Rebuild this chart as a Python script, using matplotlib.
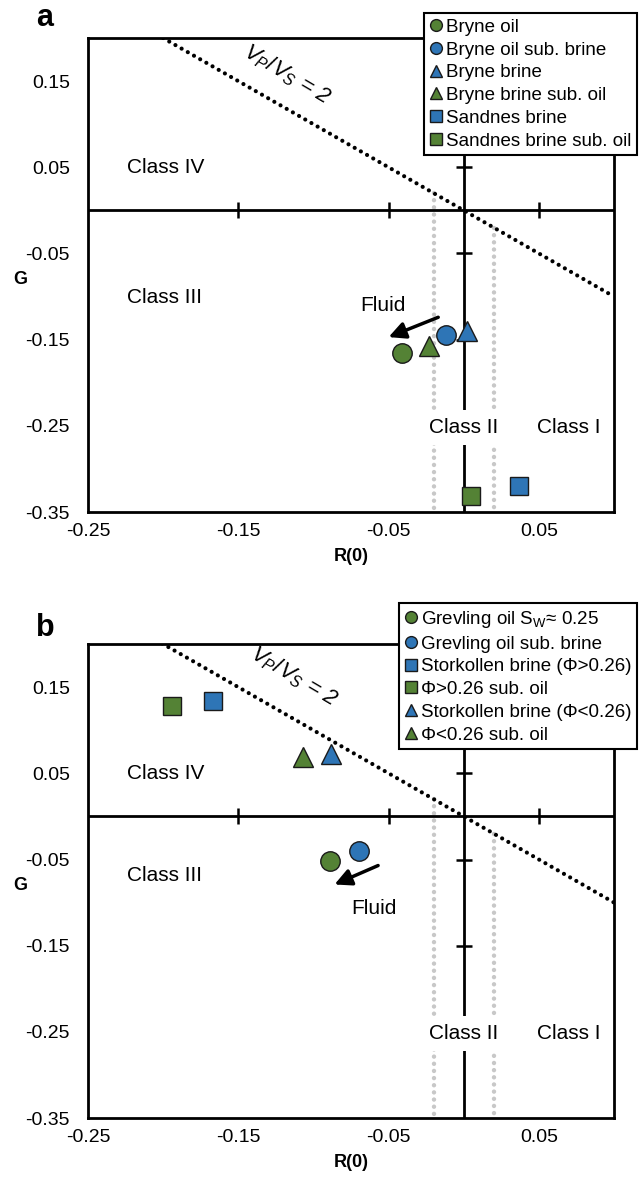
import numpy as np
import matplotlib
matplotlib.use("Agg")
import matplotlib.pyplot as plt
from matplotlib.lines import Line2D

plt.rcParams["font.family"] = ["Liberation Sans", "DejaVu Sans"]
plt.rcParams["mathtext.fontset"] = "custom"
plt.rcParams["mathtext.rm"] = "Liberation Sans"
plt.rcParams["mathtext.it"] = "Liberation Sans:italic"

GREEN = "#548235"
BLUE = "#2e75b6"

# panel a: Bryne / Sandnes
a_labels = ["Bryne oil", "Bryne oil sub. brine", "Bryne brine",
            "Bryne brine sub. oil", "Sandnes brine", "Sandnes brine sub. oil"]
a_r = [-0.041, -0.012, 0.002, -0.023, 0.037, 0.005]
a_g = [-0.166, -0.145, -0.140, -0.157, -0.320, -0.331]
a_markers = ["o", "o", "^", "^", "s", "s"]
a_colors = [GREEN, BLUE, BLUE, GREEN, BLUE, GREEN]

# panel b: Grevling / Storkollen
b_labels = [r"Grevling oil S$_\mathrm{W}$≈ 0.25", "Grevling oil sub. brine",
            "Storkollen brine (Φ>0.26)", "Φ>0.26 sub. oil",
            "Storkollen brine (Φ<0.26)", "Φ<0.26 sub. oil"]
b_r = [-0.089, -0.070, -0.167, -0.194, -0.088, -0.107]
b_g = [-0.052, -0.040, 0.134, 0.128, 0.072, 0.069]
b_markers = ["o", "o", "s", "s", "^", "^"]
b_colors = [GREEN, BLUE, BLUE, GREEN, BLUE, GREEN]

x_ticks = [-0.25, -0.15, -0.05, 0.05]
y_ticks = [0.15, 0.05, -0.05, -0.15, -0.25, -0.35]
vpvs_r = [-0.25, 0.10]

fig = plt.figure(figsize=(6.4, 11.85), dpi=100)
ax_a = fig.add_axes([0.1375, 0.5679, 0.822, 0.40])
ax_b = fig.add_axes([0.1375, 0.0565, 0.822, 0.40])


def draw_panel(ax, r, g, markers, colors, labels, arrow, fluid_xy,
               class3_y, vpvs_xy, leg_anchor):
    ax.set_xlim(-0.25, 0.10)
    ax.set_ylim(-0.35, 0.20)
    ax.set_xticks(x_ticks)
    ax.set_yticks(y_ticks)
    ax.set_xticklabels([f"{v:.2f}" for v in x_ticks])
    ax.set_yticklabels([f"{v:.2f}" for v in y_ticks])
    ax.tick_params(axis="x", length=0, labelsize=14, pad=8)
    ax.tick_params(axis="y", length=0, labelsize=14, pad=13)
    for s in ax.spines.values():
        s.set_linewidth(2)

    # axes through the origin with crossing ticks
    ax.axhline(0, color="black", lw=2, zorder=2)
    ax.axvline(0, color="black", lw=2, zorder=2)
    ax.plot([-0.15, -0.05, 0.05], [0, 0, 0], ls="none", marker="|",
            ms=11, mew=1.8, color="black", zorder=2)
    ax.plot([0] * 5, [0.15, 0.05, -0.05, -0.15, -0.25], ls="none",
            marker="_", ms=11, mew=1.8, color="black", zorder=2)

    # class boundaries
    for xv in (-0.02, 0.02):
        ax.plot([xv, xv], [-xv, -0.35], color="#c8c8c8", lw=3.2,
                ls=(0, (0.01, 1.6)), dash_capstyle="round", zorder=1)

    # Vp/Vs = 2 line
    ax.plot(vpvs_r, [-v for v in vpvs_r], color="black", lw=3,
            ls=(0, (0.01, 1.7)), dash_capstyle="round", zorder=3)
    ax.text(vpvs_xy[0], vpvs_xy[1], r"$V_P/V_S$ = 2", fontsize=16,
            style="italic", rotation=-30.5, ha="center", va="center",
            rotation_mode="anchor")

    ax.text(-0.198, 0.05, "Class IV", fontsize=15, ha="center", va="center")
    ax.text(-0.199, class3_y, "Class III", fontsize=15, ha="center",
            va="center")
    ax.text(0.0, -0.252, "Class II", fontsize=15, ha="center", va="center",
            zorder=4, bbox=dict(facecolor="white", edgecolor="none",
                                pad=6))
    ax.text(0.07, -0.252, "Class I", fontsize=15, ha="center", va="center")

    ax.annotate("", xy=arrow[1], xytext=arrow[0],
                arrowprops=dict(arrowstyle="-|>,head_length=1.0,head_width=0.5",
                                color="black", lw=2.5, shrinkA=0, shrinkB=0),
                zorder=5)
    ax.text(fluid_xy[0], fluid_xy[1], "Fluid", fontsize=15, ha="center",
            va="center")

    handles = []
    for ri, gi, m, c, lab in zip(r, g, markers, colors, labels):
        ms = 14 if m == "o" else (15 if m == "^" else 13)
        ax.plot(ri, gi, marker=m, ms=ms, color=c, mec="#1a1a1a", mew=1,
                ls="none", zorder=6)
        handles.append(Line2D([], [], marker=m, ms=8.5, color=c,
                              mec="#1a1a1a", mew=1, ls="none", label=lab))

    leg = fig.legend(handles=handles, loc="upper right",
                     bbox_to_anchor=leg_anchor, fontsize=13.5,
                     frameon=True, fancybox=False, framealpha=1,
                     handlelength=0.7, handletextpad=0.15,
                     labelspacing=0.3, borderpad=0.3, borderaxespad=0)
    leg.get_frame().set_edgecolor("black")
    leg.get_frame().set_linewidth(1.5)
    leg.set_zorder(10)

    ax.set_xlabel("R(0)", fontsize=13, fontweight="bold", labelpad=6)
    ax.set_ylabel("G", fontsize=13, fontweight="bold", rotation=0,
                  ha="center", va="center", labelpad=0)
    ax.yaxis.set_label_coords(-0.128, 0.49)


draw_panel(ax_a, a_r, a_g, a_markers, a_colors, a_labels,
           arrow=((-0.017, -0.124), (-0.05, -0.147)),
           fluid_xy=(-0.054, -0.11), class3_y=-0.101,
           vpvs_xy=(-0.118, 0.158), leg_anchor=(0.995, 0.989))
draw_panel(ax_b, b_r, b_g, b_markers, b_colors, b_labels,
           arrow=((-0.057, -0.057), (-0.086, -0.079)),
           fluid_xy=(-0.06, -0.107), class3_y=-0.069,
           vpvs_xy=(-0.113, 0.162), leg_anchor=(0.995, 0.491))

fig.text(45 / 640, 1 - 18 / 1185, "a", fontsize=22, fontweight="bold",
         ha="center", va="center")
fig.text(45 / 640, 1 - 628 / 1185, "b", fontsize=22, fontweight="bold",
         ha="center", va="center")

fig.savefig("out.png", dpi=100)
